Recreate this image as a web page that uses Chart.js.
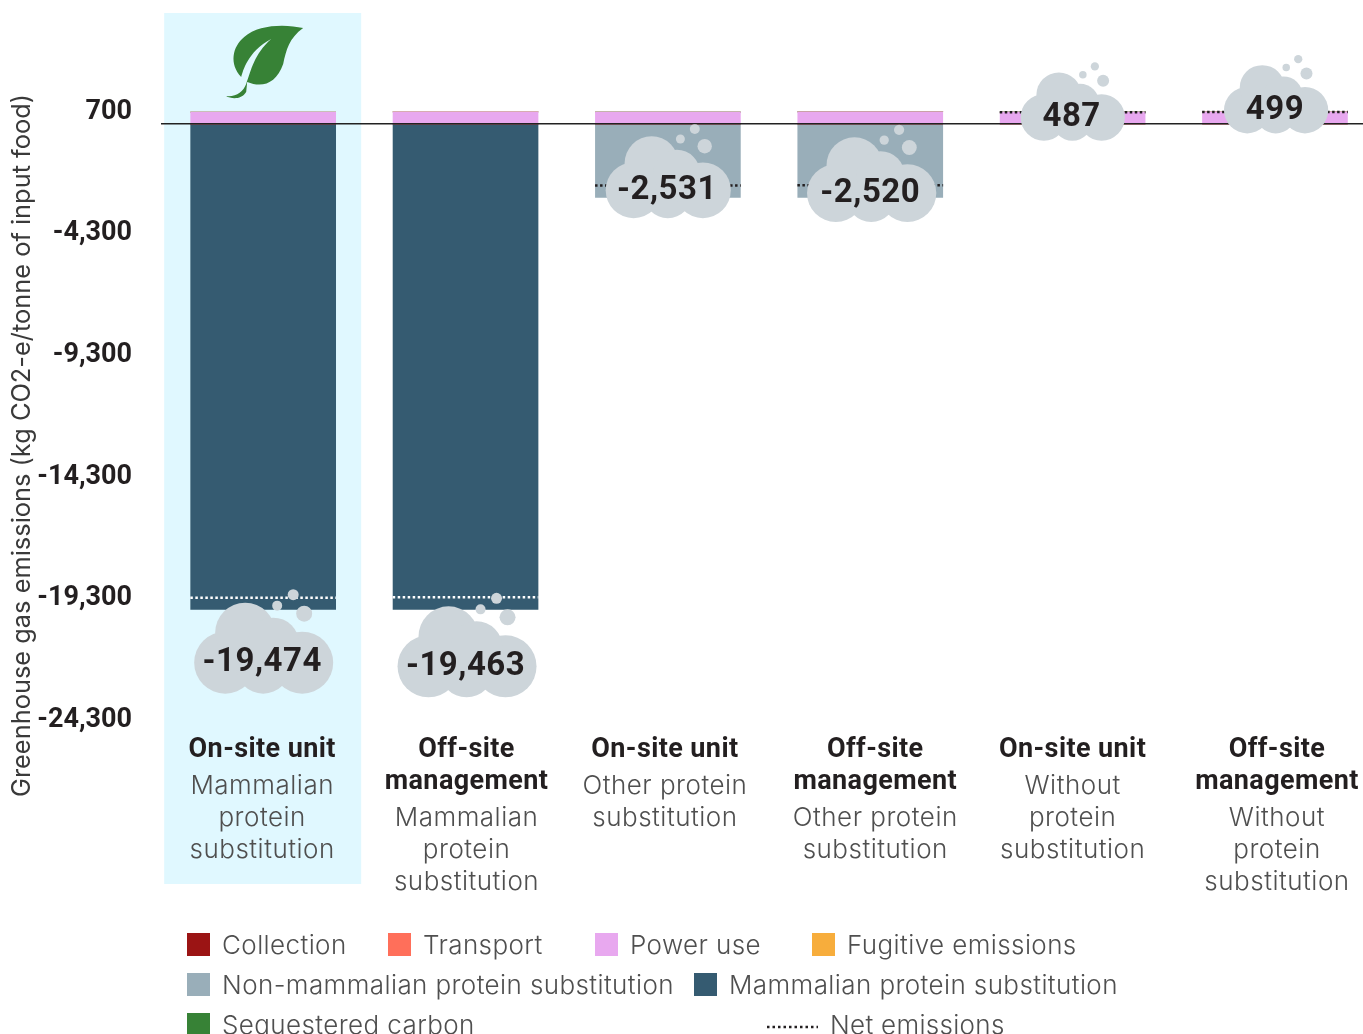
<!DOCTYPE html>
<html>
<head>
<meta charset="utf-8">
<title>Greenhouse gas emissions</title>
<script src="https://cdn.jsdelivr.net/npm/chart.js@4"></script>
<style>
  html, body { margin: 0; padding: 0; background: #fff; overflow: hidden; }
  canvas { display: block; }
</style>
</head>
<body>
<canvas id="chart" width="1363" height="1034"></canvas>
<script>
// Data
const boldLabels = [['On-site unit'], ['Off-site', 'management'], ['On-site unit'], ['Off-site', 'management'], ['On-site unit'], ['Off-site', 'management']];
const subLabels = [
  ['Mammalian', 'protein', 'substitution'], ['Mammalian', 'protein', 'substitution'],
  ['Other protein', 'substitution'], ['Other protein', 'substitution'],
  ['Without', 'protein', 'substitution'], ['Without', 'protein', 'substitution'],
];
const tickValues = [700, -4300, -9300, -14300, -19300, -24300];
const collection = [0, 0, 0, 0, 0, 0];
const transport = [0, 0, 0, 0, 0, 0];
const powerUse = [487, 499, 487, 499, 487, 499];
const fugitive = [0, 0, 0, 0, 0, 0];
const nonMammalian = [0, 0, -3018, -3019, 0, 0];
const mammalian = [-19961, -19962, 0, 0, 0, 0];
const sequestered = [0, 0, 0, 0, 0, 0];
const netEmissions = [-19474, -19463, -2531, -2520, 487, 499];

const COLORS = {
  collection: '#9b1414', transport: '#ff6f5a', power: '#e8a8ef', fugitive: '#f7ad3c',
  nonMammalian: '#99aeb9', mammalian: '#355b71', sequestered: '#378236',
};
const CLOUD = '#cdd5da';
const DARK = '#231f20';
const GREY = '#4f4f4f';
const BOLD_FONT = 'Roboto';
const LIGHT_FONT = 'Inter';

// Half a bar, in x axis units, for the dotted net line
const NET_HALF = 0.36;

function toPoints(values) {
  return values.map((v, i) => ({ x: i, y: v }));
}

function barSet(label, values, color) {
  return { type: 'bar', label, data: toPoints(values), backgroundColor: color, barThickness: 145, order: 1 };
}

const netPoints = [];
netEmissions.forEach((v, i) => {
  netPoints.push({ x: i - NET_HALF, y: v }, { x: i + NET_HALF, y: v }, { x: i + NET_HALF, y: null });
});

// Cloud placement relative to the bar centre and the net value
const cloudLayout = [
  { dx: -1, dy: 62, s: 1 }, { dx: 0, dy: 66, s: 1 },
  { dx: -1, dy: 2, s: 0.9 }, { dx: 0, dy: 5, s: 0.93 },
  { dx: -1, dy: 3, s: 0.75 }, { dx: 0, dy: -4, s: 0.75 },
];
const cloudLobes = [[-37, 3, 31], [1, 7, 27], [40, 3, 31], [-17, -27, 30], [11, -16, 26]];
const cloudBubbles = [[42, -46, 8], [15, -54, 5], [31, -65, 5.5]];

const labelNudge = [-1, 1, -3, 5, 0, 2];

const legendLayout = [
  { i: 0, x: 187, y: 933 }, { i: 1, x: 388, y: 933 }, { i: 2, x: 595, y: 933 }, { i: 3, x: 812, y: 933 },
  { i: 4, x: 187, y: 973 }, { i: 5, x: 694, y: 973 }, { i: 6, x: 187, y: 1013 },
];

function text(ctx, str, x, y, font, color, align, spacing) {
  ctx.font = font;
  ctx.fillStyle = color;
  ctx.textAlign = align;
  ctx.textBaseline = 'middle';
  ctx.letterSpacing = (spacing || 0) + 'px';
  ctx.fillText(str, x, y);
  ctx.letterSpacing = '0px';
}

function drawLeaf(ctx, ox) {
  ctx.save();
  ctx.translate(ox - 263, 0);
  ctx.fillStyle = COLORS.sequestered;
  ctx.beginPath();
  ctx.moveTo(303, 28);
  ctx.bezierCurveTo(286, 24, 258, 24, 244, 37);
  ctx.bezierCurveTo(232, 47, 229, 64, 241, 77);
  ctx.bezierCurveTo(243, 71, 247, 52, 271, 39);
  ctx.bezierCurveTo(254, 54, 251, 70, 246, 84);
  ctx.bezierCurveTo(243, 92, 236, 97, 226, 96);
  ctx.bezierCurveTo(231, 99, 241, 100, 246, 92);
  ctx.lineTo(247, 82);
  ctx.bezierCurveTo(262, 88, 276, 84, 283, 64);
  ctx.bezierCurveTo(286, 50, 289, 38, 303, 28);
  ctx.fill();
  ctx.restore();
}

const decorations = {
  id: 'decorations',
  beforeDraw(chart) {
    const ctx = chart.ctx;
    const x0 = chart.scales.x.getPixelForValue(0);
    ctx.save();
    ctx.fillStyle = '#e0f8ff';
    ctx.fillRect(x0 - 99, 13, 197, 871);
    drawLeaf(ctx, x0);
    ctx.restore();
  },
  afterDraw(chart) {
    const ctx = chart.ctx;
    const { x, y } = chart.scales;
    ctx.save();

    // Clouds with the net figure
    netEmissions.forEach((net, i) => {
      const c = cloudLayout[i];
      const cx = x.getPixelForValue(i) + c.dx;
      const cy = y.getPixelForValue(net) + c.dy;
      ctx.fillStyle = CLOUD;
      cloudLobes.concat(cloudBubbles).forEach(([lx, ly, r]) => {
        ctx.beginPath();
        ctx.arc(cx + lx * c.s, cy + ly * c.s, r * c.s, 0, Math.PI * 2);
        ctx.fill();
      });
      text(ctx, net.toLocaleString('en-US'), cx, cy + 3, `700 33px ${BOLD_FONT}`, DARK, 'center', 0.5);
    });

    // Category labels, bold line(s) then the lighter ones
    boldLabels.forEach((lines, i) => {
      const cx = x.getPixelForValue(i) + labelNudge[i];
      let ly = 750;
      lines.forEach(line => {
        text(ctx, line, cx, ly, `700 27px ${BOLD_FONT}`, DARK, 'center', 0.4);
        ly += 32;
      });
      ly = lines.length > 1 ? 818 : 786;
      subLabels[i].forEach(line => {
        text(ctx, line, cx, ly, `300 26px ${LIGHT_FONT}`, GREY, 'center', 0.5);
        ly += 32;
      });
    });

    // Axis title
    ctx.save();
    ctx.translate(22, 445.5);
    ctx.rotate(-Math.PI / 2);
    text(ctx, 'Greenhouse gas emissions (kg CO2-e/tonne of input food)', 0, 0, `400 25.4px ${LIGHT_FONT}`, '#3a3a3a', 'center', 0);
    ctx.restore();

    // Legend
    legendLayout.forEach(item => {
      const ds = chart.data.datasets[item.i];
      ctx.fillStyle = ds.backgroundColor;
      ctx.fillRect(item.x, item.y, 23, 23);
      text(ctx, ds.label, item.x + 35, item.y + 13, `300 26px ${LIGHT_FONT}`, GREY, 'left', 0.4);
    });
    ctx.strokeStyle = DARK;
    ctx.lineWidth = 2.5;
    ctx.setLineDash([2.5, 3]);
    ctx.beginPath();
    ctx.moveTo(767, 1027);
    ctx.lineTo(818, 1027);
    ctx.stroke();
    ctx.setLineDash([]);
    text(ctx, 'Net emissions', 830, 1026, `300 26px ${LIGHT_FONT}`, GREY, 'left', 0.3);
    ctx.restore();
  },
};

new Chart(document.getElementById('chart'), {
  data: {
    datasets: [
      barSet('Collection', collection, COLORS.collection),
      barSet('Transport', transport, COLORS.transport),
      barSet('Power use', powerUse, COLORS.power),
      barSet('Fugitive emissions', fugitive, COLORS.fugitive),
      barSet('Non-mammalian protein substitution', nonMammalian, COLORS.nonMammalian),
      barSet('Mammalian protein substitution', mammalian, COLORS.mammalian),
      barSet('Sequestered carbon', sequestered, COLORS.sequestered),
      {
        type: 'line',
        label: 'Net emissions',
        data: netPoints,
        order: 0,
        borderWidth: 2.5,
        borderDash: [2.5, 2.5],
        pointRadius: 0,
        spanGaps: false,
        segment: { borderColor: ctx => (ctx.p0.parsed.y < -10000 ? '#ffffff' : DARK) },
      },
    ],
  },
  options: {
    responsive: false,
    animation: false,
    layout: { padding: { top: 107, bottom: 319, left: 0, right: 0 } },
    plugins: { legend: { display: false }, tooltip: { enabled: false } },
    scales: {
      x: {
        type: 'linear',
        position: { y: 0 },
        offset: false,
        min: -0.5,
        max: 5.435,
        stacked: true,
        grid: { display: false },
        border: { display: true, color: '#222222', width: 1.5, z: 1 },
        ticks: { display: false },
      },
      y: {
        stacked: true,
        min: -24300,
        max: 700,
        grid: { display: false },
        border: { display: false },
        afterFit(scale) { scale.width = 162; },
        afterBuildTicks(scale) { scale.ticks = tickValues.map(value => ({ value })); },
        ticks: {
          padding: 22,
          labelOffset: 5,
          color: DARK,
          font: { family: BOLD_FONT, size: 27, weight: '700' },
          callback: v => v.toLocaleString('en-US'),
        },
      },
    },
  },
  plugins: [decorations],
});
</script>
</body>
</html>
